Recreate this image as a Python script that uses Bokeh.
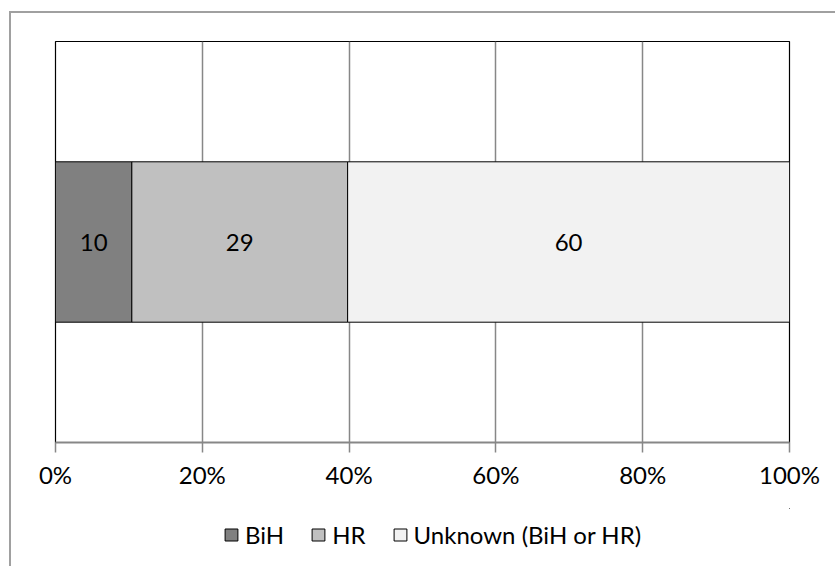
import numpy as np
from bokeh.plotting import figure
from bokeh.layouts import column
from bokeh.models import (Range1d, FixedTicker, PrintfTickFormatter, Legend,
                          LegendItem, ColumnDataSource)
from bokeh.core.properties import value
from bokeh.embed import file_html
from bokeh.resources import INLINE

# ---- data ----
series = ["BiH", "HR", "Unknown (BiH or HR)"]
shares = [10.4, 29.4, 60.2]          # percent of total
bar_labels = ["10", "29", "60"]
colors = ["#808080", "#c0c0c0", "#f2f2f2"]
x_ticks = [0, 20, 40, 60, 80, 100]

FONT = "Lato"
FS = "24px"
EDGE = "#a0a0a0"

rights = np.cumsum(shares)
lefts = rights - np.array(shares)
mids = (lefts + rights) / 2.0

# ---- main chart ----
p = figure(width=824, height=495, output_backend="svg", toolbar_location=None,
           x_range=Range1d(0, 100), y_range=Range1d(0, 1),
           min_border_left=44, min_border_right=46, min_border_top=28,
           min_border_bottom=66)
p.styles = {"position": "relative", "left": "11px", "top": "13px",
            "box-shadow": f"-2px 0px 0px 0px {EDGE}, 0px -2px 0px 0px {EDGE}, -2px -2px 0px 0px {EDGE}"}

p.outline_line_color = "black"
p.outline_line_width = 1.2
p.background_fill_color = "white"
p.border_fill_color = "white"

p.yaxis.visible = False
p.ygrid.visible = False

p.xgrid.ticker = FixedTicker(ticks=x_ticks)
p.xgrid.grid_line_color = "#878787"
p.xgrid.grid_line_width = 1.5

ax = p.xaxis[0]
ax.ticker = FixedTicker(ticks=x_ticks)
ax.formatter = PrintfTickFormatter(format="%d%%")
ax.axis_line_color = "#878787"
ax.axis_line_width = 2
ax.major_tick_line_color = "#878787"
ax.major_tick_line_width = 1.5
ax.major_tick_out = 10
ax.major_tick_in = 0
ax.minor_tick_line_color = None
ax.major_label_standoff = 7
ax.major_label_text_font = FONT
ax.major_label_text_font_size = FS
ax.major_label_text_color = "#000000"

for i, name in enumerate(series):
    src = ColumnDataSource(dict(y=[0.5], left=[float(lefts[i])], right=[float(rights[i])]))
    p.hbar(y="y", left="left", right="right", height=0.4, source=src,
           fill_color=colors[i], line_color="black", line_width=1)

p.text(x=[float(m) for m in mids], y=[0.5] * len(mids), text=bar_labels,
       text_align="center", text_baseline="middle",
       text_font=value(FONT), text_font_size=FS, text_color="black")

# ---- legend strip (separate figure, legend drawn inside its frame) ----
q = figure(width=824, height=58, output_backend="svg", toolbar_location=None,
           x_range=Range1d(0, 1), y_range=Range1d(0, 1), min_border=0)
q.styles = {"position": "relative", "left": "11px", "top": "13px",
            "box-shadow": f"-2px 0px 0px 0px {EDGE}"}
q.axis.visible = False
q.grid.visible = False
q.outline_line_color = None
q.background_fill_color = "white"
q.border_fill_color = "white"

items = []
for i, name in enumerate(series):
    # proxy bars placed far outside the visible x range; they only feed the legend
    r = q.hbar(y=[10], left=[50], right=[51], height=0.4,
               fill_color=colors[i], line_color="black", line_width=1)
    items.append(LegendItem(label=name, renderers=[r]))

legend = Legend(items=items, orientation="horizontal", location=(168, 17),
                glyph_width=16, glyph_height=15, label_standoff=6, spacing=26,
                label_text_font=FONT, label_text_font_size=FS,
                label_text_color="black", border_line_color=None,
                background_fill_alpha=0, padding=4, margin=0)
q.add_layout(legend, "center")

layout = column(p, q, spacing=0)

open("out.html", "w").write(file_html(layout, INLINE))
